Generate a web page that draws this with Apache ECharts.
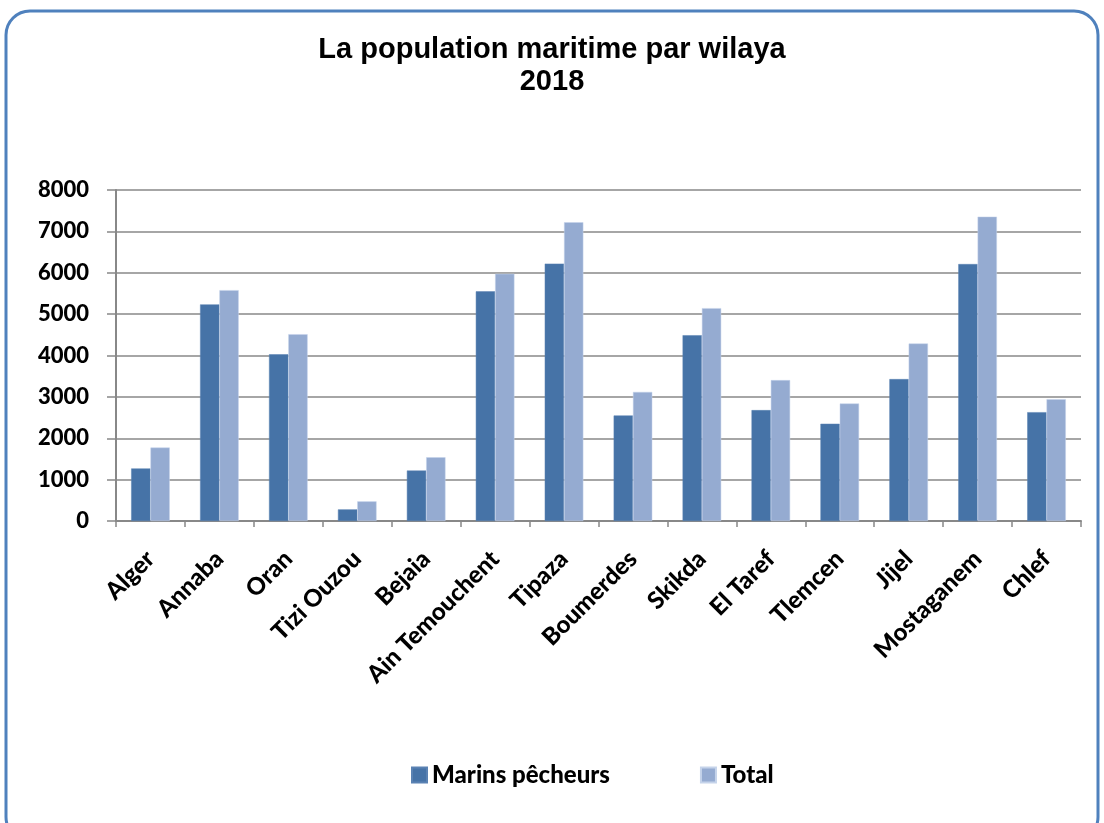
<!DOCTYPE html>
<html>
<head>
<meta charset="utf-8">
<script src="https://cdn.jsdelivr.net/npm/echarts@6/dist/echarts.min.js"></script>
<style>
  html, body { margin: 0; padding: 0; background: #fff; }
  #chart { width: 1104px; height: 823px; }
</style>
</head>
<body>
<div id="chart"></div>
<script>
var wilayas = ['Alger', 'Annaba', 'Oran', 'Tizi Ouzou', 'Bejaia', 'Ain Temouchent', 'Tipaza',
    'Boumerdes', 'Skikda', 'El Taref', 'Tlemcen', 'Jijel', 'Mostaganem', 'Chlef'];
var marinsPecheurs = [1270, 5235, 4030, 280, 1220, 5550, 6220, 2550, 4490, 2680, 2350, 3430, 6210, 2630];
var total = [1775, 5580, 4515, 475, 1540, 5975, 7220, 3120, 5145, 3405, 2840, 4290, 7355, 2945];
var yTicks = { min: 0, max: 8000, interval: 1000 };

var chart = echarts.init(document.getElementById('chart'));

chart.setOption({
    animation: false,
    backgroundColor: '#fff',
    title: {
        text: 'La population maritime par wilaya\n2018',
        left: 'center',
        top: 29,
        textStyle: {
            fontFamily: 'Liberation Sans',
            fontWeight: 'bold',
            fontSize: 29,
            lineHeight: 32,
            color: '#000'
        }
    },
    legend: {
        top: 758,
        left: 406,
        itemGap: 90,
        itemWidth: 15,
        itemHeight: 15,
        icon: 'rect',
        textStyle: {
            fontFamily: 'Lato',
            fontWeight: 900,
            fontSize: 24,
            color: '#000'
        },
        data: ['Marins pêcheurs', 'Total']
    },
    grid: { left: 116, right: 23, top: 190, bottom: 302 },
    xAxis: {
        type: 'category',
        data: wilayas,
        boundaryGap: true,
        axisLine: { lineStyle: { color: '#888', width: 2 } },
        axisTick: { show: true, length: 6, lineStyle: { color: '#888', width: 1.5 } },
        axisLabel: {
            rotate: 45,
            margin: 34,
            fontFamily: 'Lato',
            fontWeight: 900,
            fontSize: 24,
            color: '#000',
            interval: 0
        }
    },
    yAxis: {
        type: 'value',
        min: yTicks.min,
        max: yTicks.max,
        interval: yTicks.interval,
        axisLine: { show: true, lineStyle: { color: '#888', width: 2 } },
        axisTick: { show: true, length: 9, lineStyle: { color: '#888', width: 1.5 } },
        splitLine: { lineStyle: { color: '#888', width: 1.5 } },
        axisLabel: {
            margin: 27,
            fontFamily: 'Lato',
            fontWeight: 900,
            fontSize: 22,
            color: '#000',
            formatter: function (v) { return String(v); }
        }
    },
    series: [
        {
            name: 'Marins pêcheurs',
            type: 'bar',
            data: marinsPecheurs,
            barGap: '0%',
            barCategoryGap: '44%',
            itemStyle: { color: '#4673a7', borderColor: '#5a82b3', borderWidth: 0.5 }
        },
        {
            name: 'Total',
            type: 'bar',
            data: total,
            itemStyle: { color: '#95abd1', borderColor: '#c5d3ea', borderWidth: 0.5 }
        }
    ],
    graphic: [
        {
            type: 'rect',
            shape: { x: 6, y: 11, width: 1092, height: 830, r: 24 },
            style: { fill: 'none', stroke: '#4f81bd', lineWidth: 3 },
            silent: true
        }
    ]
});

window.addEventListener('resize', function () {
    chart.resize();
});
</script>
</body>
</html>
